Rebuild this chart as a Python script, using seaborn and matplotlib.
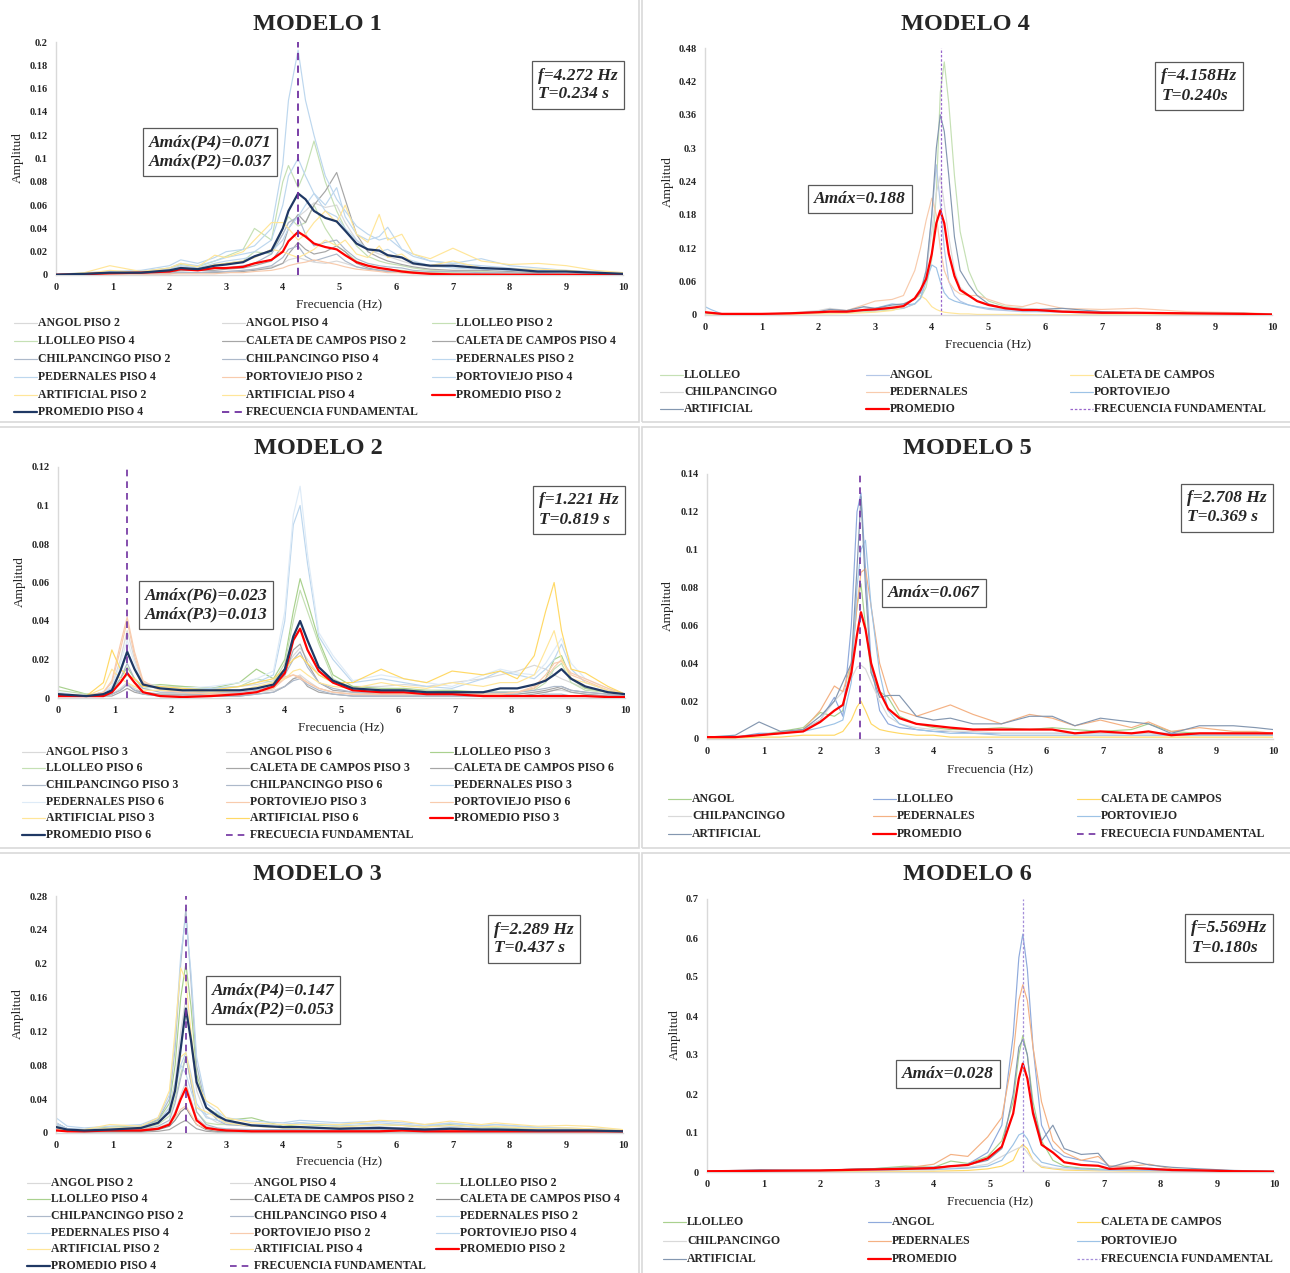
import numpy as np
import pandas as pd
import matplotlib
matplotlib.use("Agg")
import matplotlib.pyplot as plt
from matplotlib.lines import Line2D
from matplotlib.patches import Rectangle
import seaborn as sns

sns.set_theme(style="white")
plt.rcParams['font.family'] = ['Liberation Serif', 'DejaVu Serif']

W, H = 1290, 1273

# ---------------- MODELO 1 ----------------
m1_freq = [0, 0.5, 0.95, 1.5, 2, 2.2, 2.5, 2.8, 3, 3.3, 3.5, 3.8, 4, 4.1, 4.27, 4.4, 4.55, 4.75,
           4.95, 5.1, 5.3, 5.5, 5.7, 5.85, 6.1, 6.3, 6.6, 7, 7.5, 8, 8.5, 9, 9.5, 10]
m1_labels = ["ANGOL PISO 2", "ANGOL PISO 4", "LLOLLEO PISO 2", "LLOLLEO PISO 4",
             "CALETA DE CAMPOS PISO 2", "CALETA DE CAMPOS PISO 4", "CHILPANCINGO PISO 2",
             "CHILPANCINGO PISO 4", "PEDERNALES PISO 2", "PEDERNALES PISO 4", "PORTOVIEJO PISO 2",
             "PORTOVIEJO PISO 4", "ARTIFICIAL PISO 2", "ARTIFICIAL PISO 4", "PROMEDIO PISO 2",
             "PROMEDIO PISO 4"]
m1_amp = [
    [0.0002, 0.0005, 0.001, 0.001, 0.002, 0.003, 0.002, 0.003, 0.003, 0.004, 0.005, 0.007, 0.010, 0.013, 0.015, 0.013, 0.011, 0.010, 0.012, 0.010, 0.007, 0.005, 0.004, 0.004, 0.003, 0.002, 0.002, 0.001, 0.001, 0.001, 0.0005, 0.0005, 0.0003, 0.0002],
    [0.0003, 0.001, 0.002, 0.002, 0.004, 0.007, 0.005, 0.008, 0.010, 0.012, 0.015, 0.022, 0.035, 0.045, 0.050, 0.055, 0.062, 0.058, 0.060, 0.045, 0.030, 0.022, 0.018, 0.016, 0.012, 0.009, 0.007, 0.007, 0.005, 0.004, 0.003, 0.002, 0.002, 0.001],
    [0.0002, 0.0008, 0.002, 0.002, 0.004, 0.006, 0.005, 0.008, 0.010, 0.012, 0.020, 0.018, 0.040, 0.050, 0.042, 0.045, 0.060, 0.040, 0.025, 0.020, 0.012, 0.008, 0.006, 0.005, 0.004, 0.003, 0.002, 0.002, 0.001, 0.001, 0.0005, 0.0005, 0.0003, 0.0002],
    [0.0003, 0.001, 0.003, 0.003, 0.006, 0.009, 0.007, 0.012, 0.016, 0.022, 0.040, 0.030, 0.080, 0.094, 0.075, 0.090, 0.115, 0.080, 0.055, 0.040, 0.025, 0.016, 0.012, 0.010, 0.008, 0.006, 0.004, 0.003, 0.003, 0.002, 0.002, 0.001, 0.001, 0.0005],
    [0.0001, 0.0003, 0.0005, 0.001, 0.001, 0.002, 0.002, 0.002, 0.002, 0.003, 0.004, 0.006, 0.010, 0.018, 0.028, 0.022, 0.018, 0.020, 0.025, 0.020, 0.010, 0.006, 0.004, 0.003, 0.002, 0.002, 0.001, 0.001, 0.001, 0.0005, 0.0005, 0.0003, 0.0002, 0.0001],
    [0.0002, 0.0005, 0.001, 0.002, 0.002, 0.004, 0.004, 0.004, 0.005, 0.006, 0.008, 0.012, 0.025, 0.040, 0.052, 0.045, 0.060, 0.072, 0.088, 0.065, 0.035, 0.020, 0.015, 0.012, 0.009, 0.007, 0.005, 0.004, 0.004, 0.003, 0.002, 0.002, 0.001, 0.001],
    [0.0001, 0.0004, 0.0008, 0.001, 0.002, 0.002, 0.002, 0.003, 0.003, 0.004, 0.005, 0.008, 0.015, 0.022, 0.025, 0.016, 0.012, 0.015, 0.018, 0.012, 0.007, 0.005, 0.004, 0.003, 0.003, 0.002, 0.001, 0.001, 0.001, 0.0005, 0.0005, 0.0003, 0.0002, 0.0001],
    [0.0002, 0.0008, 0.0015, 0.002, 0.004, 0.005, 0.004, 0.006, 0.006, 0.008, 0.010, 0.018, 0.035, 0.045, 0.050, 0.035, 0.025, 0.028, 0.030, 0.022, 0.014, 0.010, 0.008, 0.007, 0.006, 0.004, 0.003, 0.003, 0.002, 0.002, 0.001, 0.001, 0.0005, 0.0003],
    [0.0003, 0.001, 0.002, 0.003, 0.006, 0.010, 0.008, 0.012, 0.015, 0.018, 0.020, 0.030, 0.060, 0.085, 0.100, 0.085, 0.070, 0.055, 0.050, 0.040, 0.030, 0.022, 0.020, 0.022, 0.015, 0.012, 0.008, 0.006, 0.005, 0.004, 0.003, 0.002, 0.002, 0.001],
    [0.0005, 0.002, 0.003, 0.004, 0.008, 0.013, 0.010, 0.015, 0.020, 0.022, 0.025, 0.040, 0.095, 0.150, 0.193, 0.150, 0.120, 0.085, 0.065, 0.055, 0.042, 0.035, 0.030, 0.032, 0.022, 0.018, 0.012, 0.010, 0.008, 0.006, 0.004, 0.003, 0.002, 0.001],
    [0.0001, 0.0002, 0.0004, 0.0005, 0.001, 0.001, 0.001, 0.001, 0.002, 0.002, 0.003, 0.004, 0.006, 0.008, 0.010, 0.011, 0.013, 0.011, 0.009, 0.007, 0.005, 0.004, 0.003, 0.002, 0.002, 0.001, 0.001, 0.001, 0.0005, 0.0005, 0.0003, 0.0002, 0.0002, 0.0001],
    [0.0003, 0.001, 0.002, 0.003, 0.005, 0.008, 0.006, 0.010, 0.012, 0.014, 0.016, 0.020, 0.030, 0.040, 0.050, 0.060, 0.070, 0.060, 0.075, 0.050, 0.035, 0.030, 0.033, 0.041, 0.022, 0.016, 0.012, 0.010, 0.014, 0.008, 0.006, 0.004, 0.003, 0.002],
    [0.0002, 0.001, 0.004, 0.002, 0.004, 0.006, 0.005, 0.009, 0.010, 0.012, 0.015, 0.022, 0.020, 0.018, 0.015, 0.018, 0.022, 0.030, 0.025, 0.030, 0.018, 0.015, 0.025, 0.015, 0.018, 0.010, 0.008, 0.012, 0.006, 0.005, 0.005, 0.004, 0.002, 0.001],
    [0.0003, 0.002, 0.008, 0.003, 0.006, 0.010, 0.007, 0.017, 0.015, 0.020, 0.030, 0.045, 0.045, 0.040, 0.030, 0.035, 0.045, 0.055, 0.045, 0.060, 0.035, 0.028, 0.052, 0.030, 0.035, 0.018, 0.014, 0.023, 0.012, 0.009, 0.010, 0.008, 0.004, 0.002],
    [0.0002, 0.0007, 0.0015, 0.002, 0.003, 0.005, 0.004, 0.006, 0.006, 0.007, 0.010, 0.013, 0.020, 0.029, 0.037, 0.033, 0.027, 0.024, 0.022, 0.017, 0.011, 0.008, 0.006, 0.005, 0.003, 0.002, 0.001, 0.0005, 0.0003, 0.0002, 0.0002, 0.0002, 0.0002, 0.0002],
    [0.0003, 0.001, 0.002, 0.002, 0.004, 0.006, 0.005, 0.008, 0.009, 0.011, 0.016, 0.021, 0.040, 0.055, 0.070, 0.065, 0.055, 0.049, 0.046, 0.038, 0.027, 0.022, 0.021, 0.017, 0.015, 0.010, 0.008, 0.008, 0.006, 0.005, 0.003, 0.003, 0.002, 0.001],
]
m1_colors = ["#d9d9d9", "#d9d9d9", "#c5e0b4", "#c5e0b4", "#a6a6a6", "#a6a6a6", "#adb9ca", "#adb9ca",
             "#bdd7ee", "#bdd7ee", "#f8cbad", "#bdd7ee", "#ffe699", "#ffe699", "#ff0000", "#1f3864"]

# ---------------- MODELO 2 ----------------
m2_freq = [0, 0.5, 0.8, 0.95, 1.1, 1.22, 1.35, 1.5, 1.8, 2.2, 2.7, 3.2, 3.5, 3.8, 4, 4.15, 4.27, 4.4,
           4.6, 4.85, 5.2, 5.7, 6.1, 6.5, 6.95, 7.5, 7.8, 8.1, 8.4, 8.6, 8.75, 8.88, 9.05, 9.3, 9.7, 10]
m2_labels = ["ANGOL PISO 3", "ANGOL PISO 6", "LLOLLEO PISO 3", "LLOLLEO PISO 6",
             "CALETA DE CAMPOS PISO 3", "CALETA DE CAMPOS PISO 6", "CHILPANCINGO PISO 3",
             "CHILPANCINGO PISO 6", "PEDERNALES PISO 3", "PEDERNALES PISO 6", "PORTOVIEJO PISO 3",
             "PORTOVIEJO PISO 6", "ARTIFICIAL PISO 3", "ARTIFICIAL PISO 6", "PROMEDIO PISO 3",
             "PROMEDIO PISO 6"]
m2_amp = [
    [0.001, 0.001, 0.001, 0.002, 0.005, 0.008, 0.005, 0.003, 0.002, 0.002, 0.002, 0.002, 0.003, 0.004, 0.006, 0.010, 0.012, 0.009, 0.005, 0.003, 0.002, 0.002, 0.002, 0.002, 0.002, 0.002, 0.002, 0.002, 0.003, 0.003, 0.004, 0.004, 0.003, 0.002, 0.001, 0.001],
    [0.002, 0.001, 0.003, 0.006, 0.020, 0.035, 0.020, 0.008, 0.006, 0.006, 0.005, 0.006, 0.007, 0.009, 0.015, 0.022, 0.026, 0.020, 0.012, 0.008, 0.006, 0.006, 0.007, 0.006, 0.008, 0.010, 0.012, 0.014, 0.017, 0.015, 0.012, 0.010, 0.008, 0.005, 0.003, 0.002],
    [0.006, 0.002, 0.002, 0.004, 0.010, 0.016, 0.010, 0.006, 0.007, 0.006, 0.005, 0.008, 0.015, 0.010, 0.020, 0.045, 0.062, 0.050, 0.030, 0.012, 0.006, 0.005, 0.005, 0.004, 0.004, 0.003, 0.003, 0.003, 0.005, 0.010, 0.020, 0.022, 0.010, 0.005, 0.003, 0.002],
    [0.004, 0.002, 0.002, 0.003, 0.008, 0.012, 0.008, 0.005, 0.006, 0.005, 0.005, 0.006, 0.010, 0.008, 0.018, 0.040, 0.056, 0.045, 0.028, 0.010, 0.005, 0.004, 0.004, 0.004, 0.003, 0.003, 0.003, 0.003, 0.004, 0.008, 0.015, 0.018, 0.008, 0.004, 0.003, 0.002],
    [0.001, 0.001, 0.001, 0.001, 0.003, 0.005, 0.003, 0.002, 0.001, 0.001, 0.001, 0.001, 0.002, 0.003, 0.006, 0.010, 0.011, 0.006, 0.003, 0.002, 0.001, 0.001, 0.001, 0.001, 0.001, 0.001, 0.001, 0.001, 0.002, 0.003, 0.004, 0.005, 0.003, 0.002, 0.001, 0.001],
    [0.002, 0.001, 0.001, 0.002, 0.004, 0.007, 0.004, 0.003, 0.002, 0.002, 0.002, 0.002, 0.003, 0.005, 0.012, 0.025, 0.028, 0.018, 0.008, 0.004, 0.003, 0.002, 0.002, 0.002, 0.002, 0.002, 0.002, 0.002, 0.003, 0.004, 0.005, 0.006, 0.004, 0.003, 0.002, 0.001],
    [0.001, 0.001, 0.001, 0.002, 0.004, 0.007, 0.004, 0.002, 0.001, 0.001, 0.001, 0.001, 0.002, 0.003, 0.006, 0.009, 0.010, 0.007, 0.004, 0.002, 0.001, 0.001, 0.001, 0.001, 0.001, 0.001, 0.001, 0.001, 0.001, 0.002, 0.002, 0.002, 0.001, 0.001, 0.001, 0.001],
    [0.002, 0.001, 0.002, 0.003, 0.010, 0.018, 0.010, 0.005, 0.003, 0.003, 0.003, 0.003, 0.004, 0.006, 0.012, 0.020, 0.024, 0.016, 0.008, 0.005, 0.003, 0.003, 0.003, 0.003, 0.003, 0.003, 0.003, 0.003, 0.004, 0.005, 0.006, 0.006, 0.004, 0.003, 0.002, 0.001],
    [0.002, 0.001, 0.003, 0.005, 0.015, 0.025, 0.015, 0.006, 0.005, 0.004, 0.005, 0.006, 0.008, 0.012, 0.040, 0.090, 0.100, 0.070, 0.032, 0.020, 0.008, 0.010, 0.008, 0.006, 0.005, 0.010, 0.014, 0.012, 0.010, 0.015, 0.020, 0.028, 0.015, 0.008, 0.004, 0.002],
    [0.003, 0.001, 0.003, 0.006, 0.018, 0.030, 0.018, 0.007, 0.006, 0.005, 0.006, 0.008, 0.010, 0.014, 0.045, 0.095, 0.110, 0.075, 0.034, 0.022, 0.009, 0.012, 0.010, 0.008, 0.006, 0.012, 0.015, 0.013, 0.012, 0.018, 0.025, 0.031, 0.018, 0.010, 0.005, 0.002],
    [0.002, 0.001, 0.003, 0.008, 0.025, 0.040, 0.022, 0.008, 0.004, 0.003, 0.002, 0.002, 0.003, 0.005, 0.010, 0.012, 0.011, 0.008, 0.005, 0.003, 0.002, 0.002, 0.002, 0.002, 0.002, 0.002, 0.002, 0.003, 0.005, 0.010, 0.016, 0.020, 0.012, 0.009, 0.004, 0.002],
    [0.002, 0.001, 0.003, 0.009, 0.028, 0.042, 0.024, 0.009, 0.004, 0.003, 0.002, 0.002, 0.003, 0.005, 0.011, 0.012, 0.010, 0.008, 0.005, 0.003, 0.002, 0.002, 0.002, 0.002, 0.002, 0.002, 0.002, 0.003, 0.006, 0.012, 0.018, 0.019, 0.013, 0.010, 0.005, 0.002],
    [0.001, 0.001, 0.005, 0.015, 0.010, 0.008, 0.006, 0.004, 0.004, 0.004, 0.003, 0.004, 0.006, 0.008, 0.010, 0.014, 0.015, 0.012, 0.008, 0.006, 0.005, 0.008, 0.006, 0.005, 0.008, 0.006, 0.008, 0.008, 0.012, 0.025, 0.035, 0.020, 0.010, 0.008, 0.004, 0.002],
    [0.002, 0.001, 0.008, 0.025, 0.015, 0.012, 0.010, 0.006, 0.006, 0.005, 0.004, 0.006, 0.008, 0.010, 0.015, 0.020, 0.022, 0.018, 0.012, 0.008, 0.008, 0.015, 0.010, 0.008, 0.014, 0.012, 0.014, 0.010, 0.022, 0.045, 0.060, 0.035, 0.015, 0.013, 0.006, 0.002],
    [0.001, 0.001, 0.001, 0.003, 0.008, 0.013, 0.008, 0.003, 0.001, 0.0005, 0.001, 0.002, 0.003, 0.006, 0.013, 0.030, 0.036, 0.025, 0.014, 0.008, 0.004, 0.003, 0.003, 0.002, 0.002, 0.001, 0.001, 0.001, 0.001, 0.001, 0.001, 0.001, 0.001, 0.001, 0.0005, 0.0005],
    [0.002, 0.001, 0.002, 0.004, 0.014, 0.024, 0.015, 0.007, 0.005, 0.004, 0.004, 0.004, 0.005, 0.007, 0.015, 0.032, 0.040, 0.030, 0.016, 0.009, 0.005, 0.004, 0.004, 0.003, 0.003, 0.003, 0.005, 0.005, 0.007, 0.009, 0.012, 0.015, 0.010, 0.006, 0.003, 0.002],
]
m2_colors = ["#d9d9d9", "#d9d9d9", "#a9d18e", "#c5e0b4", "#a6a6a6", "#a6a6a6", "#adb9ca", "#adb9ca",
             "#bdd7ee", "#deebf7", "#f8cbad", "#f8cbad", "#ffe699", "#ffd966", "#ff0000", "#1f3864"]

# ---------------- MODELO 3 ----------------
m3_freq = [0, 0.2, 0.5, 0.95, 1.5, 1.8, 2, 2.1, 2.2, 2.29, 2.38, 2.48, 2.65, 2.85, 3, 3.45, 4, 4.3,
           5, 5.7, 6.1, 6.5, 6.95, 7.5, 7.75, 8.5, 9, 9.4, 10]
m3_labels = ["ANGOL PISO 2", "ANGOL PISO 4", "LLOLLEO PISO 2", "LLOLLEO PISO 4",
             "CALETA DE CAMPOS PISO 2", "CALETA DE CAMPOS PISO 4", "CHILPANCINGO PISO 2",
             "CHILPANCINGO PISO 4", "PEDERNALES PISO 2", "PEDERNALES PISO 4", "PORTOVIEJO PISO 2",
             "PORTOVIEJO PISO 4", "ARTIFICIAL PISO 2", "ARTIFICIAL PISO 4", "PROMEDIO PISO 2",
             "PROMEDIO PISO 4"]
m3_amp = [
    [0.005, 0.003, 0.002, 0.003, 0.004, 0.006, 0.012, 0.025, 0.045, 0.060, 0.040, 0.018, 0.008, 0.005, 0.004, 0.003, 0.003, 0.003, 0.002, 0.003, 0.003, 0.002, 0.003, 0.002, 0.002, 0.002, 0.002, 0.002, 0.001],
    [0.010, 0.005, 0.004, 0.005, 0.007, 0.014, 0.030, 0.060, 0.120, 0.160, 0.110, 0.050, 0.020, 0.012, 0.010, 0.008, 0.007, 0.007, 0.006, 0.007, 0.006, 0.005, 0.006, 0.005, 0.005, 0.004, 0.004, 0.004, 0.003],
    [0.004, 0.002, 0.002, 0.004, 0.005, 0.010, 0.020, 0.040, 0.070, 0.090, 0.060, 0.025, 0.012, 0.010, 0.010, 0.010, 0.006, 0.006, 0.005, 0.005, 0.005, 0.004, 0.006, 0.004, 0.004, 0.003, 0.003, 0.003, 0.002],
    [0.008, 0.004, 0.004, 0.007, 0.008, 0.015, 0.035, 0.080, 0.160, 0.200, 0.150, 0.070, 0.030, 0.022, 0.015, 0.018, 0.008, 0.010, 0.008, 0.010, 0.009, 0.007, 0.010, 0.006, 0.006, 0.005, 0.004, 0.004, 0.003],
    [0.004, 0.002, 0.001, 0.001, 0.001, 0.002, 0.004, 0.008, 0.012, 0.015, 0.010, 0.005, 0.002, 0.001, 0.001, 0.001, 0.001, 0.001, 0.001, 0.001, 0.001, 0.001, 0.001, 0.001, 0.001, 0.001, 0.001, 0.001, 0.001],
    [0.012, 0.005, 0.002, 0.002, 0.002, 0.004, 0.008, 0.015, 0.025, 0.030, 0.020, 0.010, 0.004, 0.002, 0.002, 0.002, 0.002, 0.002, 0.002, 0.002, 0.002, 0.002, 0.002, 0.002, 0.002, 0.002, 0.002, 0.002, 0.001],
    [0.006, 0.003, 0.002, 0.003, 0.004, 0.008, 0.015, 0.035, 0.065, 0.090, 0.060, 0.025, 0.010, 0.006, 0.005, 0.004, 0.004, 0.004, 0.003, 0.004, 0.003, 0.003, 0.004, 0.003, 0.003, 0.002, 0.002, 0.002, 0.002],
    [0.010, 0.005, 0.004, 0.005, 0.008, 0.016, 0.040, 0.100, 0.200, 0.265, 0.180, 0.080, 0.030, 0.015, 0.010, 0.008, 0.007, 0.007, 0.006, 0.007, 0.006, 0.005, 0.006, 0.005, 0.005, 0.004, 0.004, 0.004, 0.003],
    [0.012, 0.005, 0.004, 0.006, 0.008, 0.012, 0.025, 0.050, 0.080, 0.095, 0.070, 0.035, 0.018, 0.015, 0.012, 0.010, 0.010, 0.012, 0.008, 0.010, 0.010, 0.008, 0.008, 0.007, 0.008, 0.005, 0.005, 0.005, 0.003],
    [0.018, 0.008, 0.006, 0.008, 0.010, 0.018, 0.045, 0.110, 0.210, 0.255, 0.190, 0.090, 0.035, 0.025, 0.018, 0.014, 0.012, 0.015, 0.012, 0.014, 0.012, 0.010, 0.011, 0.009, 0.010, 0.007, 0.006, 0.005, 0.004],
    [0.004, 0.002, 0.002, 0.003, 0.004, 0.006, 0.010, 0.018, 0.028, 0.032, 0.022, 0.010, 0.005, 0.003, 0.003, 0.002, 0.002, 0.002, 0.002, 0.002, 0.002, 0.002, 0.002, 0.002, 0.002, 0.002, 0.002, 0.002, 0.001],
    [0.010, 0.005, 0.004, 0.005, 0.007, 0.012, 0.030, 0.060, 0.080, 0.070, 0.050, 0.030, 0.022, 0.025, 0.012, 0.008, 0.010, 0.012, 0.010, 0.012, 0.010, 0.008, 0.012, 0.008, 0.010, 0.006, 0.005, 0.005, 0.003],
    [0.005, 0.003, 0.003, 0.006, 0.006, 0.012, 0.025, 0.055, 0.090, 0.095, 0.065, 0.030, 0.025, 0.018, 0.012, 0.008, 0.006, 0.006, 0.007, 0.010, 0.009, 0.007, 0.009, 0.007, 0.008, 0.005, 0.006, 0.005, 0.003],
    [0.007, 0.004, 0.004, 0.010, 0.008, 0.018, 0.050, 0.120, 0.195, 0.180, 0.120, 0.060, 0.038, 0.030, 0.018, 0.012, 0.010, 0.010, 0.010, 0.015, 0.014, 0.010, 0.014, 0.010, 0.012, 0.008, 0.009, 0.008, 0.004],
    [0.003, 0.002, 0.002, 0.003, 0.003, 0.005, 0.010, 0.022, 0.040, 0.053, 0.035, 0.015, 0.006, 0.004, 0.003, 0.002, 0.002, 0.002, 0.002, 0.002, 0.003, 0.002, 0.002, 0.002, 0.002, 0.002, 0.002, 0.002, 0.002],
    [0.007, 0.004, 0.003, 0.004, 0.006, 0.012, 0.025, 0.050, 0.100, 0.147, 0.110, 0.060, 0.030, 0.020, 0.015, 0.009, 0.007, 0.007, 0.005, 0.006, 0.005, 0.004, 0.005, 0.004, 0.004, 0.003, 0.003, 0.003, 0.002],
]
m3_colors = ["#d9d9d9", "#d9d9d9", "#c5e0b4", "#a9d18e", "#a6a6a6", "#8c8c8c", "#adb9ca", "#adb9ca",
             "#bdd7ee", "#bdd7ee", "#f8cbad", "#bdd7ee", "#ffe699", "#ffe699", "#ff0000", "#203864"]

# ---------------- MODELO 4 ----------------
m4_freq = [0, 0.1, 0.3, 1, 1.5, 2, 2.2, 2.5, 2.8, 3, 3.3, 3.5, 3.7, 3.8, 3.9, 4, 4.08, 4.15, 4.22,
           4.3, 4.4, 4.5, 4.65, 4.8, 5, 5.3, 5.6, 5.85, 6.3, 7, 7.6, 8.5, 9.5, 10]
m4_labels = ["LLOLLEO", "ANGOL", "CALETA DE CAMPOS", "CHILPANCINGO", "PEDERNALES", "PORTOVIEJO",
             "ARTIFICIAL", "PROMEDIO"]
m4_amp = [
    [0.003, 0.002, 0.001, 0.001, 0.002, 0.003, 0.004, 0.004, 0.006, 0.007, 0.009, 0.012, 0.020, 0.030, 0.050, 0.100, 0.220, 0.400, 0.455, 0.380, 0.250, 0.150, 0.080, 0.045, 0.025, 0.015, 0.012, 0.010, 0.008, 0.005, 0.004, 0.003, 0.002, 0.001],
    [0.004, 0.003, 0.001, 0.001, 0.002, 0.004, 0.005, 0.005, 0.008, 0.008, 0.012, 0.012, 0.020, 0.030, 0.070, 0.180, 0.270, 0.200, 0.120, 0.060, 0.035, 0.025, 0.018, 0.014, 0.010, 0.008, 0.006, 0.006, 0.005, 0.003, 0.003, 0.002, 0.002, 0.001],
    [0.002, 0.001, 0.0005, 0.0005, 0.001, 0.002, 0.002, 0.003, 0.004, 0.005, 0.008, 0.015, 0.030, 0.035, 0.028, 0.015, 0.010, 0.007, 0.005, 0.004, 0.003, 0.002, 0.002, 0.001, 0.001, 0.001, 0.001, 0.0005, 0.0005, 0.0005, 0.0005, 0.0005, 0.0005, 0.0005],
    [0.005, 0.003, 0.002, 0.002, 0.004, 0.008, 0.012, 0.008, 0.014, 0.012, 0.015, 0.020, 0.030, 0.045, 0.080, 0.150, 0.220, 0.250, 0.200, 0.140, 0.080, 0.050, 0.035, 0.025, 0.018, 0.013, 0.012, 0.010, 0.008, 0.006, 0.005, 0.004, 0.003, 0.002],
    [0.006, 0.004, 0.002, 0.002, 0.003, 0.006, 0.008, 0.008, 0.018, 0.025, 0.028, 0.035, 0.080, 0.120, 0.170, 0.210, 0.180, 0.120, 0.080, 0.060, 0.045, 0.038, 0.035, 0.035, 0.028, 0.018, 0.015, 0.022, 0.012, 0.010, 0.012, 0.006, 0.004, 0.002],
    [0.015, 0.010, 0.002, 0.002, 0.003, 0.005, 0.006, 0.006, 0.010, 0.012, 0.020, 0.018, 0.020, 0.030, 0.060, 0.090, 0.085, 0.060, 0.040, 0.030, 0.025, 0.022, 0.018, 0.015, 0.012, 0.010, 0.008, 0.007, 0.006, 0.004, 0.003, 0.003, 0.002, 0.001],
    [0.004, 0.003, 0.002, 0.002, 0.003, 0.006, 0.010, 0.008, 0.015, 0.012, 0.018, 0.020, 0.028, 0.040, 0.080, 0.180, 0.300, 0.360, 0.330, 0.250, 0.140, 0.080, 0.055, 0.035, 0.020, 0.012, 0.010, 0.010, 0.012, 0.006, 0.004, 0.003, 0.003, 0.001],
    [0.005, 0.004, 0.002, 0.002, 0.003, 0.005, 0.006, 0.006, 0.009, 0.010, 0.013, 0.016, 0.030, 0.045, 0.065, 0.110, 0.165, 0.188, 0.165, 0.110, 0.070, 0.045, 0.035, 0.025, 0.018, 0.012, 0.009, 0.009, 0.006, 0.004, 0.004, 0.003, 0.002, 0.001],
]
m4_colors = ["#c5e0b4", "#b4c7e7", "#ffe699", "#d9d9d9", "#f8cbad", "#9dc3e6", "#8497b0", "#ff0000"]

# ---------------- MODELO 5 ----------------
m5_freq = [0, 0.5, 0.92, 1.3, 1.7, 2, 2.25, 2.4, 2.55, 2.65, 2.72, 2.8, 2.9, 3.05, 3.2, 3.4, 3.7, 4,
           4.3, 4.7, 5.2, 5.7, 6.1, 6.5, 6.95, 7.5, 7.8, 8.2, 8.7, 9.3, 9.7, 10]
m5_labels = ["ANGOL", "LLOLLEO", "CALETA DE CAMPOS", "CHILPANCINGO", "PEDERNALES", "PORTOVIEJO",
             "ARTIFICIAL", "PROMEDIO"]
m5_amp = [
    [0.001, 0.001, 0.002, 0.004, 0.006, 0.014, 0.012, 0.015, 0.040, 0.070, 0.082, 0.060, 0.035, 0.025, 0.022, 0.012, 0.008, 0.006, 0.005, 0.005, 0.006, 0.005, 0.006, 0.005, 0.004, 0.005, 0.008, 0.004, 0.003, 0.003, 0.003, 0.002],
    [0.001, 0.001, 0.003, 0.003, 0.005, 0.010, 0.022, 0.012, 0.060, 0.120, 0.130, 0.090, 0.040, 0.015, 0.008, 0.006, 0.005, 0.004, 0.004, 0.003, 0.003, 0.003, 0.003, 0.003, 0.003, 0.003, 0.003, 0.003, 0.002, 0.002, 0.002, 0.002],
    [0.0005, 0.0005, 0.001, 0.001, 0.002, 0.002, 0.002, 0.004, 0.010, 0.017, 0.020, 0.015, 0.008, 0.005, 0.004, 0.003, 0.002, 0.002, 0.001, 0.001, 0.001, 0.001, 0.001, 0.001, 0.001, 0.001, 0.001, 0.001, 0.001, 0.001, 0.001, 0.001],
    [0.001, 0.001, 0.002, 0.003, 0.005, 0.010, 0.020, 0.025, 0.032, 0.038, 0.039, 0.037, 0.030, 0.020, 0.012, 0.008, 0.006, 0.005, 0.004, 0.004, 0.003, 0.003, 0.003, 0.003, 0.003, 0.003, 0.003, 0.002, 0.002, 0.002, 0.002, 0.002],
    [0.001, 0.001, 0.002, 0.003, 0.005, 0.015, 0.028, 0.025, 0.040, 0.070, 0.088, 0.090, 0.070, 0.040, 0.025, 0.015, 0.012, 0.015, 0.018, 0.013, 0.008, 0.013, 0.011, 0.007, 0.010, 0.006, 0.009, 0.004, 0.006, 0.004, 0.004, 0.003],
    [0.001, 0.001, 0.002, 0.003, 0.004, 0.006, 0.008, 0.010, 0.030, 0.080, 0.100, 0.105, 0.070, 0.035, 0.015, 0.008, 0.005, 0.004, 0.003, 0.003, 0.002, 0.002, 0.002, 0.002, 0.002, 0.002, 0.002, 0.002, 0.002, 0.002, 0.002, 0.002],
    [0.001, 0.002, 0.009, 0.004, 0.005, 0.012, 0.020, 0.030, 0.040, 0.090, 0.128, 0.080, 0.035, 0.022, 0.023, 0.023, 0.012, 0.010, 0.011, 0.008, 0.008, 0.012, 0.012, 0.007, 0.011, 0.009, 0.008, 0.003, 0.007, 0.007, 0.006, 0.005],
    [0.001, 0.001, 0.002, 0.003, 0.004, 0.009, 0.015, 0.018, 0.035, 0.055, 0.067, 0.058, 0.040, 0.025, 0.016, 0.011, 0.008, 0.007, 0.006, 0.005, 0.005, 0.005, 0.005, 0.003, 0.004, 0.003, 0.004, 0.002, 0.003, 0.003, 0.003, 0.003],
]
m5_colors = ["#a9d18e", "#8faadc", "#ffd966", "#d9d9d9", "#f4b183", "#9dc3e6", "#8497b0", "#ff0000"]

# ---------------- MODELO 6 ----------------
m6_freq = [0, 0.95, 2, 2.7, 3.5, 4, 4.3, 4.6, 4.95, 5.2, 5.4, 5.5, 5.57, 5.65, 5.75, 5.9, 6.1, 6.3,
           6.6, 6.9, 7.1, 7.5, 7.8, 8.2, 8.7, 9.3, 10]
m6_labels = ["LLOLLEO", "ANGOL", "CALETA DE CAMPOS", "CHILPANCINGO", "PEDERNALES", "PORTOVIEJO",
             "ARTIFICIAL", "PROMEDIO"]
m6_amp = [
    [0.001, 0.002, 0.003, 0.006, 0.015, 0.012, 0.028, 0.022, 0.040, 0.080, 0.180, 0.300, 0.350, 0.300, 0.180, 0.080, 0.030, 0.015, 0.010, 0.008, 0.006, 0.006, 0.005, 0.004, 0.003, 0.002, 0.001],
    [0.002, 0.004, 0.004, 0.008, 0.010, 0.012, 0.015, 0.020, 0.050, 0.120, 0.350, 0.550, 0.610, 0.520, 0.320, 0.120, 0.060, 0.040, 0.030, 0.025, 0.015, 0.012, 0.010, 0.006, 0.005, 0.003, 0.002],
    [0.0005, 0.001, 0.001, 0.002, 0.002, 0.002, 0.003, 0.004, 0.008, 0.015, 0.030, 0.060, 0.070, 0.060, 0.030, 0.012, 0.008, 0.005, 0.004, 0.003, 0.003, 0.002, 0.002, 0.002, 0.001, 0.001, 0.0005],
    [0.001, 0.002, 0.003, 0.004, 0.006, 0.008, 0.010, 0.012, 0.020, 0.040, 0.055, 0.062, 0.065, 0.050, 0.030, 0.015, 0.010, 0.008, 0.006, 0.005, 0.004, 0.004, 0.003, 0.002, 0.002, 0.001, 0.001],
    [0.002, 0.003, 0.004, 0.008, 0.010, 0.020, 0.045, 0.040, 0.090, 0.140, 0.300, 0.440, 0.480, 0.440, 0.320, 0.180, 0.080, 0.050, 0.030, 0.040, 0.015, 0.015, 0.020, 0.008, 0.005, 0.003, 0.002],
    [0.001, 0.002, 0.003, 0.004, 0.006, 0.006, 0.008, 0.010, 0.015, 0.030, 0.070, 0.095, 0.100, 0.085, 0.050, 0.025, 0.018, 0.012, 0.008, 0.006, 0.005, 0.005, 0.004, 0.003, 0.002, 0.002, 0.001],
    [0.002, 0.006, 0.004, 0.008, 0.010, 0.012, 0.015, 0.018, 0.030, 0.060, 0.200, 0.320, 0.340, 0.300, 0.160, 0.080, 0.120, 0.060, 0.045, 0.048, 0.012, 0.028, 0.018, 0.012, 0.008, 0.004, 0.002],
    [0.002, 0.003, 0.004, 0.006, 0.008, 0.010, 0.015, 0.018, 0.035, 0.065, 0.150, 0.240, 0.278, 0.240, 0.150, 0.070, 0.050, 0.025, 0.018, 0.016, 0.008, 0.010, 0.008, 0.005, 0.004, 0.002, 0.001],
]
m6_colors = ["#a9d18e", "#8faadc", "#ffd966", "#d9d9d9", "#f4b183", "#9dc3e6", "#8497b0", "#ff0000"]

# frecuencias fundamentales y textos
f_fund = [4.272, 1.221, 2.289, 4.158, 2.708, 5.569]
ymax = [0.2, 0.12, 0.28, 0.48, 0.14, 0.7]
ystep = [0.02, 0.02, 0.04, 0.06, 0.02, 0.1]
ff_names = ["FRECUENCIA FUNDAMENTAL", "FRECUECIA FUNDAMENTAL", "FRECUENCIA FUNDAMENTAL",
            "FRECUENCIA FUNDAMENTAL", "FRECUECIA FUNDAMENTAL", "FRECUENCIA FUNDAMENTAL"]
info_txt = ["f=4.272 Hz\nT=0.234 s", "f=1.221 Hz\nT=0.819 s", "f=2.289 Hz\nT=0.437 s",
            "f=4.158Hz\nT=0.240s", "f=2.708 Hz\nT=0.369 s", "f=5.569Hz\nT=0.180s"]
amax_txt = ["Amáx(P4)=0.071\nAmáx(P2)=0.037", "Amáx(P6)=0.023\nAmáx(P3)=0.013",
            "Amáx(P4)=0.147\nAmáx(P2)=0.053", "Amáx=0.188", "Amáx=0.067", "Amáx=0.028"]

# layout en pixeles (left, right, bottom, top)
ax_px = [(56, 623, 275, 42), (58, 625, 698, 467), (56, 623, 1133, 896),
         (705, 1272, 315, 48), (707, 1273, 739, 474), (707, 1274, 1172, 899)]
title_xy = [(317, 24), (318, 449), (317, 875), (965, 24), (967, 449), (967, 875)]
xlab_y = [305, 728, 1162, 345, 770, 1202]
ylab_xy = [(18, 158), (20, 582), (18, 1014), (668, 182), (668, 606), (675, 1035)]
info_xy = [(578, 85), (579, 510), (534, 939), (1199, 86), (1227, 508), (1229, 938)]
amax_xy = [(210, 152), (206, 605), (273, 1000), (860, 199), (934, 593), (948, 1074)]
leg_rows = [[323, 341, 359, 377, 395, 412], [752, 768, 785, 802, 818, 835],
            [1183, 1199, 1216, 1233, 1249, 1266], [375, 392, 409], [799, 816, 834], [1222, 1241, 1259]]
leg_cols = [[14, 222, 432], [22, 226, 430], [27, 230, 436], [660, 866, 1070], [668, 873, 1077], [663, 868, 1077]]
ff_style = [("#7030a0", (0, (4, 3)), 1.3), ("#7030a0", (0, (4, 3)), 1.2), ("#7030a0", (0, (4, 3)), 1.2),
            ("#9966cc", (0, (2, 1.5)), 0.9), ("#7030a0", (0, (4, 3)), 1.2), ("#a58fd9", (0, (2, 1.5)), 0.9)]

panels = [(m1_freq, m1_labels, m1_amp, m1_colors), (m2_freq, m2_labels, m2_amp, m2_colors),
          (m3_freq, m3_labels, m3_amp, m3_colors), (m4_freq, m4_labels, m4_amp, m4_colors),
          (m5_freq, m5_labels, m5_amp, m5_colors), (m6_freq, m6_labels, m6_amp, m6_colors)]
titles = ["MODELO 1", "MODELO 2", "MODELO 3", "MODELO 4", "MODELO 5", "MODELO 6"]


def fx(x):
    return x / W


def fy(y):
    return 1 - y / H


fig = plt.figure(figsize=(W / 100, H / 100), dpi=100)

# marcos de cada grafico
for (x0, x1) in [(-2, 639), (642, 1292)]:
    for (y0, y1) in [(-2, 422), (427, 848), (853, 1275)]:
        fig.add_artist(Rectangle((fx(x0), fy(y1)), (x1 - x0) / W, (y1 - y0) / H,
                                 transform=fig.transFigure, fill=False, ec="#d9d9d9", lw=1.2))

for i, (freq, labels, amps, colors) in enumerate(panels):
    l, r, b, t = ax_px[i]
    ax = fig.add_axes([fx(l), fy(b), (r - l) / W, (b - t) / H])
    df = pd.DataFrame({"f": np.tile(freq, len(labels)),
                       "amp": np.concatenate(amps),
                       "serie": np.repeat(labels, len(freq))})
    n_avg = 2 if len(labels) > 8 else 1
    widths = []
    for k, lab in enumerate(labels):
        is_avg = k >= len(labels) - n_avg
        lw = 1.6 if is_avg else 0.85
        widths.append(lw)
        sns.lineplot(data=df[df["serie"] == lab], x="f", y="amp", ax=ax, color=colors[k],
                     lw=lw, zorder=3 if is_avg else 2, legend=False)
    fc, fls, flw = ff_style[i]
    ax.axvline(f_fund[i], color=fc, ls=fls, lw=flw, zorder=4)

    ax.set_xlim(0, 10)
    ax.set_ylim(0, ymax[i])
    ax.set_xticks(range(0, 11))
    yt = np.round(np.arange(0, ymax[i] + ystep[i] / 2, ystep[i]), 3)
    ax.set_yticks(yt)
    ax.set_yticklabels([f"{v:g}" for v in yt])
    ax.tick_params(length=0, pad=6, labelsize=7.5)
    for lab in ax.get_xticklabels() + ax.get_yticklabels():
        lab.set_fontweight("bold")
    ax.set_xlabel("")
    ax.set_ylabel("")
    for s in ["top", "right"]:
        ax.spines[s].set_visible(False)
    for s in ["left", "bottom"]:
        ax.spines[s].set_color("#d9d9d9")
        ax.spines[s].set_linewidth(1.0)

    cx = (l + r) / 2
    fig.text(fx(title_xy[i][0]), fy(title_xy[i][1]), titles[i], ha="center", va="center",
             fontsize=17.5, fontweight="bold")
    fig.text(fx(cx), fy(xlab_y[i]), "Frecuencia (Hz)", ha="center", va="center", fontsize=9.5)
    fig.text(fx(ylab_xy[i][0]), fy(ylab_xy[i][1]), "Amplitud", ha="center", va="center",
             rotation=90, fontsize=9.5)

    box = dict(boxstyle="square,pad=0.35", fc="white", ec="#595959", lw=0.9)
    fig.text(fx(info_xy[i][0]), fy(info_xy[i][1]), info_txt[i], ha="center", va="center",
             multialignment="left", fontsize=12.5, fontweight="bold", style="italic",
             linespacing=1.25, bbox=box, zorder=5)
    fig.text(fx(amax_xy[i][0]), fy(amax_xy[i][1]), amax_txt[i], ha="center", va="center",
             fontsize=12.5, fontweight="bold", style="italic", linespacing=1.25, bbox=box, zorder=5)

    # leyenda (orden por filas, como en la figura original)
    items = [(labels[k], colors[k], "-", widths[k]) for k in range(len(labels))]
    items.append((ff_names[i], fc, fls, flw))
    for k, (lab, c, ls, lw) in enumerate(items):
        row, col = divmod(k, 3)
        x0 = leg_cols[i][col]
        y0 = leg_rows[i][row]
        fig.add_artist(Line2D([fx(x0), fx(x0 + 23)], [fy(y0), fy(y0)], transform=fig.transFigure,
                              color=c, ls=ls, lw=lw))
        fig.text(fx(x0 + 24), fy(y0), lab, ha="left", va="center", fontsize=8.5, fontweight="bold")

fig.savefig("out.png", dpi=100)
